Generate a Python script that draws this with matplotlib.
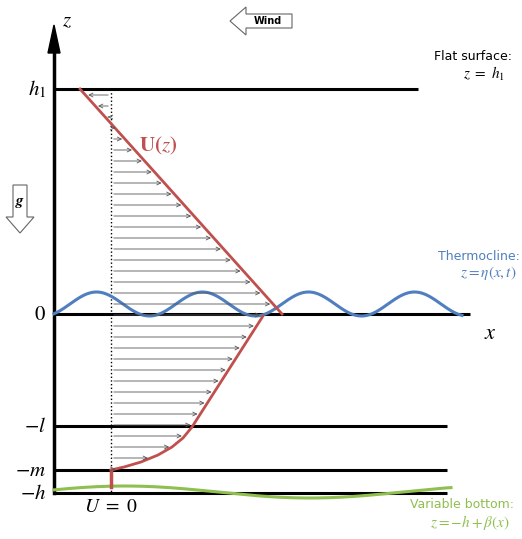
import numpy as np
import matplotlib.pyplot as plt
from matplotlib.patches import FancyArrow

plt.rcParams['mathtext.fontset'] = 'stix'
W, H = 522, 539
# layout levels (pixel units of the schematic)
level_names = [r'$h_1$', r'$0$', r'$-l$', r'$-m$', r'$-h$']
level_y = [89, 314, 426, 470, 493]
level_xend = [418, 470, 447, 447, 447]
# velocity profile vertices (x, y)
upper_x = [80, 282]; upper_y = [89, 314]
lower_x = [263, 192, 183, 172, 158, 141, 124, 111]
lower_y = [316, 427, 438, 447, 455, 462, 467, 470]
arrow_rows = np.arange(95, 470, 11)

fig = plt.figure(figsize=(W/100, H/100), dpi=100)
ax = fig.add_axes([0, 0, 1, 1])
ax.set_xlim(0, W); ax.set_ylim(H, 0); ax.axis('off')

def prof_x(y):
    if y <= 314:
        return np.interp(y, upper_y, upper_x)
    return np.interp(y, lower_y, lower_x)
for y in arrow_rows:
    xe = prof_x(y)
    ax.annotate('', xy=(xe, y), xytext=(111, y),
                arrowprops=dict(arrowstyle='->', color='#555555', lw=0.6, mutation_scale=7))
ax.plot([111, 111], [89, 493], ls=':', color='black', lw=1)

for y, xe in zip(level_y, level_xend):
    ax.plot([54, xe], [y, y], color='black', lw=2.2, solid_capstyle='butt')
for name, y in zip(level_names, level_y):
    ax.text(46, y, name, ha='right', va='center', fontsize=15)

ax.plot([54, 54], [493, 50], color='black', lw=2.5)
ax.add_patch(FancyArrow(54, 55, 0, -30, width=0, head_width=12, head_length=28,
                        color='black', length_includes_head=True))
ax.text(62, 20, r'$z$', fontsize=15, ha='left', va='center')
ax.text(490, 333, r'$x$', fontsize=16, ha='center', va='center')

xs = np.linspace(54, 462, 400)
ax.plot(xs, 304 - 12*np.sin(2*np.pi*(xs - 70)/106), color='#4f7fbf', lw=2.2)
xb = np.linspace(54, 451, 400)
ax.plot(xb, 492 - 6*np.cos(2*np.pi*(xb - 125)/370), color='#8fbf4f', lw=2.2)

ax.plot(upper_x, upper_y, color='#c0504d', lw=2)
ax.plot(lower_x, lower_y, color='#c0504d', lw=2)
ax.plot([111, 111], [470, 487], color='#c0504d', lw=2.5)

ax.text(158, 146, r'$\mathbf{U}\mathbf{(}z\mathbf{)}$',
        color='#c0504d', fontsize=15, ha='center', va='center')
ax.text(111, 506, r'$U\ =\ 0$', fontsize=14, ha='center', va='center')
ax.text(512, 57, 'Flat surface:', fontsize=9, ha='right', va='center')
ax.text(505, 74, r'$z\ =\ h_1$', fontsize=11, ha='right', va='center')
ax.text(520, 256, 'Thermocline:', fontsize=9, ha='right', va='center', color='#4f7fbf')
ax.text(517, 273, r'$z = \eta(x,t)$', fontsize=11, ha='right', va='center', color='#4f7fbf')
ax.text(514, 505, 'Variable bottom:', fontsize=9, ha='right', va='center', color='#8fbf4f')
ax.text(510, 522, r'$z = -h + \beta(x)$', fontsize=11, ha='right', va='center', color='#8fbf4f')

ax.add_patch(FancyArrow(20, 185, 0, 48, width=14, head_width=28, head_length=16,
                        fc='white', ec='#666666', lw=0.8, length_includes_head=True))
ax.text(20, 203, r'$\boldsymbol{g}$', fontsize=11, ha='center', va='center')
ax.add_patch(FancyArrow(292, 21, -62, 0, width=14, head_width=28, head_length=16,
                        fc='white', ec='#666666', lw=0.8, length_includes_head=True))
ax.text(268, 21, 'Wind', fontsize=7, fontweight='bold', ha='center', va='center')

fig.savefig('out.png', dpi=100)
